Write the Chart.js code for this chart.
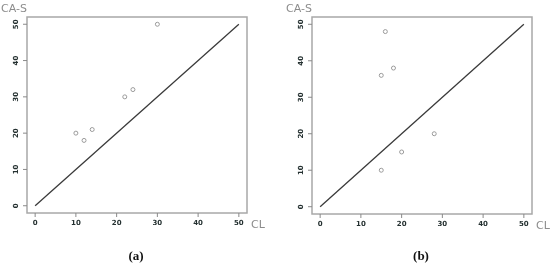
<!DOCTYPE html>
<html>
<head>
<meta charset="utf-8">
<script src="https://cdn.jsdelivr.net/npm/chart.js@4/dist/chart.umd.min.js"></script>
<style>
  html, body { margin: 0; padding: 0; background: #fff; }
  #wrap { position: relative; width: 550px; height: 266px; overflow: hidden; }
  canvas { position: absolute; top: 0; }
</style>
</head>
<body>
<div id="wrap">
  <canvas id="ca" width="275" height="266" style="left:0"></canvas>
  <canvas id="cb" width="275" height="266" style="left:275px"></canvas>
</div>
<script>
// ---- data ----
const clA  = [10, 12, 14, 22, 24, 30];
const casA = [20, 18, 21, 30, 32, 50];
const clB  = [16, 18, 15, 28, 20, 15];
const casB = [48, 38, 36, 20, 15, 10];
const refLine = [0, 50];               // identity line y = x
const tickValues = [0, 10, 20, 30, 40, 50];
const xTitle = "CL";
const yTitle = "CA-S";
const panelLabels = ["(a)", "(b)"];

function pts(xs, ys) { return xs.map((x, i) => ({ x: x, y: ys[i] })); }

const rStyle = {
  id: 'rStyle',
  afterDraw(chart, args, opts) {
    const ctx = chart.ctx;
    const a = chart.chartArea;
    const xs = chart.scales.x, ys = chart.scales.y;
    ctx.save();
    // box
    ctx.strokeStyle = '#a8a8a8';
    ctx.lineWidth = 1.5;
    ctx.strokeRect(a.left, a.top, a.right - a.left, a.bottom - a.top);
    // ticks
    ctx.strokeStyle = '#8a8a8a';
    ctx.lineWidth = 1;
    ctx.fillStyle = '#243030';
    ctx.font = 'bold 7px "DejaVu Sans", sans-serif';
    tickValues.forEach(v => {
      const px = xs.getPixelForValue(v);
      ctx.beginPath();
      ctx.moveTo(px, a.bottom);
      ctx.lineTo(px, a.bottom + 4);
      ctx.stroke();
      ctx.textAlign = 'center';
      ctx.textBaseline = 'middle';
      ctx.fillText(String(v), px, a.bottom + 10);
      const py = ys.getPixelForValue(v);
      ctx.beginPath();
      ctx.moveTo(a.left, py);
      ctx.lineTo(a.left - 4, py);
      ctx.stroke();
      ctx.save();
      ctx.translate(a.left - 11, py);
      ctx.rotate(-Math.PI / 2);
      ctx.fillText(String(v), 0, 0);
      ctx.restore();
    });
    // axis titles
    ctx.fillStyle = '#8c8c8c';
    ctx.font = '11px "DejaVu Sans", sans-serif';
    ctx.textAlign = 'left';
    ctx.textBaseline = 'middle';
    ctx.fillText(xTitle, a.right + 4, a.bottom + 12);
    ctx.textAlign = 'right';
    ctx.fillText(yTitle, a.left + opts.yTitleShift, a.top - 8);
    // panel label
    ctx.fillStyle = '#111';
    ctx.font = 'bold 13px "Liberation Serif", serif';
    ctx.textAlign = 'center';
    ctx.fillText(opts.label, (a.left + a.right) / 2 + opts.labelShift, 257);
    ctx.restore();
  }
};

function makeChart(id, xs, ys, pad, label, labelShift, yTitleShift) {
  return new Chart(document.getElementById(id), {
    type: 'scatter',
    data: {
      datasets: [
        {
          type: 'line',
          data: pts(refLine, refLine),
          borderColor: '#3a3a3a',
          borderWidth: 1.3,
          pointRadius: 0,
          fill: false
        },
        {
          data: pts(xs, ys),
          pointStyle: 'circle',
          pointRadius: 2,
          pointBorderWidth: 1,
          borderColor: '#9a9a9a',
          backgroundColor: 'rgba(0,0,0,0)'
        }
      ]
    },
    options: {
      responsive: false,
      animation: false,
      events: [],
      layout: { padding: pad },
      plugins: {
        legend: { display: false },
        tooltip: { enabled: false },
        rStyle: { label: label, labelShift: labelShift, yTitleShift: yTitleShift }
      },
      scales: {
        x: { type: 'linear', min: -2, max: 52, display: false },
        y: { type: 'linear', min: -2, max: 52, display: false }
      }
    },
    plugins: [rStyle]
  });
}

makeChart('ca', clA, casA, { left: 27, right: 28, top: 17, bottom: 53 }, panelLabels[0], -1, 0);
makeChart('cb', clB, casB, { left: 37, right: 18, top: 17, bottom: 52 }, panelLabels[1], -1, 0);
</script>
</body>
</html>
